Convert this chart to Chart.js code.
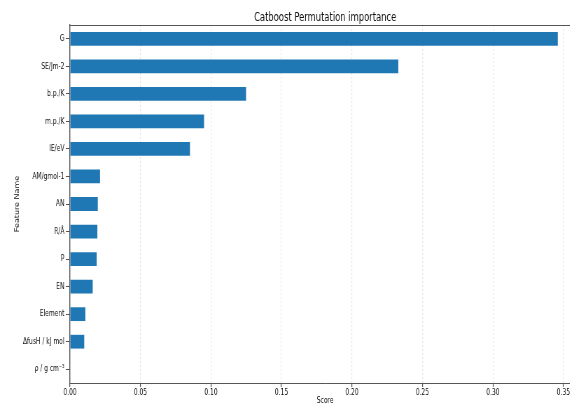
<!DOCTYPE html>
<html>
<head>
<meta charset="utf-8">
<script src="https://cdn.jsdelivr.net/npm/chart.js@4/dist/chart.umd.min.js"></script>
<style>
  html, body { margin: 0; padding: 0; background: #fff; width: 570px; height: 406px; overflow: hidden; }
  #wrap { width: 570px; height: 406px; overflow: hidden; position: relative; }
  /* the figure is laid out wide and squeezed horizontally */
  #c { position: absolute; left: 0; top: 0; transform: scaleX(0.7); transform-origin: 0 0; }
</style>
</head>
<body>
<div id="wrap"><canvas id="c" width="829" height="406"></canvas></div>
<script>
// Permutation importance per feature (top to bottom)
const featureNames = [
  'G', 'SE/Jm-2', 'b.p./K', 'm.p./K', 'IE/eV', 'AM/gmol-1', 'AN',
  'R/Å', 'P', 'EN', 'Element', 'ΔfusH / kJ mol', 'ρ / g cm⁻³'
];
const importanceScores = [
  0.346, 0.2329, 0.1249, 0.0951, 0.0851, 0.0213, 0.0197,
  0.0194, 0.0189, 0.0161, 0.0109, 0.0101, 0.0
];
const scoreTicks = [0.00, 0.05, 0.10, 0.15, 0.20, 0.25, 0.30, 0.35];
const scoreMax = 0.362;

const FONT = "'DejaVu Sans', sans-serif";
const INK = '#111';
const SPINE = '#555';

new Chart(document.getElementById('c'), {
  type: 'bar',
  data: {
    labels: featureNames,
    datasets: [{
      data: importanceScores,
      backgroundColor: '#1f77b4',
      borderWidth: 0,
      barPercentage: 0.5,
      categoryPercentage: 1.0
    }]
  },
  options: {
    indexAxis: 'y',
    responsive: false,
    animation: false,
    devicePixelRatio: 1,
    layout: { padding: 0 },
    plugins: {
      legend: { display: false },
      tooltip: { enabled: false }
    },
    scales: {
      x: {
        type: 'linear',
        position: 'bottom',
        min: 0,
        max: scoreMax,
        afterBuildTicks(scale) {
          scale.ticks = scoreTicks.map(v => ({ value: v }));
        },
        afterFit(scale) { scale.height = 23; },
        ticks: {
          color: INK,
          font: { family: FONT, size: 8.5 },
          padding: 1,
          maxRotation: 0,
          autoSkip: false,
          callback: v => Number(v).toFixed(2)
        },
        grid: {
          color: '#e4e4e4',
          lineWidth: 1.2,
          tickColor: SPINE,
          tickLength: 4,
          tickWidth: 1.3
        },
        border: { color: SPINE, width: 1, dash: [2, 2] },
        title: {
          display: true,
          text: 'Score',
          color: INK,
          font: { family: FONT, size: 8.5 },
          padding: { top: 0, bottom: 0 }
        }
      },
      // top frame of the plot, carrying the chart title centred over the axes
      xTop: {
        type: 'linear',
        position: 'top',
        axis: 'x',
        min: 0,
        max: scoreMax,
        afterFit(scale) { scale.height = 25; },
        ticks: { display: false },
        grid: { display: false },
        border: { display: true, color: SPINE, width: 1 },
        title: {
          display: true,
          text: 'Catboost Permutation importance',
          color: INK,
          font: { family: FONT, size: 12 },
          padding: { top: 11, bottom: 0 }
        }
      },
      y: {
        afterFit(scale) { scale.width = 100; },
        ticks: {
          color: INK,
          font: { family: FONT, size: 8.5 },
          padding: 2,
          autoSkip: false
        },
        grid: {
          offset: false,
          drawOnChartArea: false,
          tickColor: SPINE,
          tickLength: 6,
          tickWidth: 1
        },
        border: { color: SPINE, width: 1.4 },
        title: {
          display: true,
          text: 'Feature Name',
          color: INK,
          font: { family: FONT, size: 8 },
          padding: { top: 20, bottom: 0 }
        }
      }
    }
  }
});
</script>
</body>
</html>
